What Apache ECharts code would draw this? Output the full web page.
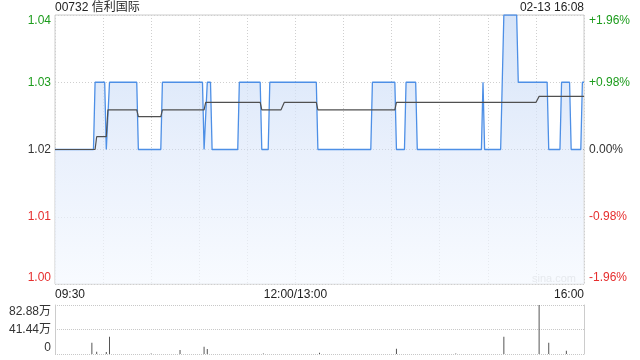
<!DOCTYPE html>
<html>
<head>
<meta charset="utf-8">
<script src="https://cdn.jsdelivr.net/npm/echarts@6/dist/echarts.min.js"></script>
<style>
html,body{margin:0;padding:0;background:#fff;}
#c{width:640px;height:360px;}
</style>
</head>
<body>
<div id="c"></div>
<script>
// ---- data (minute index from 09:30, lunch break removed; 330 = 16:00) ----
var title = '00732 信利国际';
var stamp = '02-13 16:08';
var prevClose = 1.02;
var timeLabels = {0: '09:30', 150: '12:00/13:00', 330: '16:00'};

var priceMinutes = [0, 24, 25, 31, 32, 33, 34, 51, 52, 66, 67, 92, 93, 94, 95, 97, 98, 114, 115, 128, 129, 133, 134, 163, 164, 197, 198, 212, 213, 218, 219, 225, 226, 266, 267, 268, 278, 280, 288, 289, 307, 308, 315, 316, 321, 322, 328, 329, 330];
var priceValues  = [1.02, 1.02, 1.03, 1.03, 1.02, 1.02, 1.03, 1.03, 1.02, 1.02, 1.03, 1.03, 1.02, 1.02, 1.03, 1.03, 1.02, 1.02, 1.03, 1.03, 1.02, 1.02, 1.03, 1.03, 1.02, 1.02, 1.03, 1.03, 1.02, 1.02, 1.03, 1.03, 1.02, 1.02, 1.03, 1.02, 1.02, 1.04, 1.04, 1.03, 1.03, 1.02, 1.02, 1.03, 1.03, 1.02, 1.02, 1.03, 1.03];

var avgMinutes = [0, 25, 26, 32, 33, 51, 52, 66, 67, 93, 94, 128, 129, 141, 143, 163, 164, 212, 213, 300, 302, 330];
var avgValues  = [1.02, 1.02, 1.0219, 1.0219, 1.0259, 1.0259, 1.0249, 1.0249, 1.0259, 1.0259, 1.027, 1.027, 1.0259, 1.0259, 1.027, 1.027, 1.0259, 1.0259, 1.027, 1.027, 1.0279, 1.0279];

var volMinutes = [23, 26, 32, 34, 60, 78, 93, 95, 130, 165, 213, 250, 280, 302, 308, 319];
var volValues  = [19.1, 3.9, 3.5, 29.3, 0.8, 6.8, 12.4, 8.5, 0.8, 2.0, 9.0, 0.8, 29.3, 82.88, 19.1, 5.6]; // 万

var priceTicks = [1.00, 1.01, 1.02, 1.03, 1.04];
var pctTicks = [-1.96, -0.98, 0, 0.98, 1.96];
var volTicks = [0, 41.44, 82.88];

// ---- build ----
function pairs(xs, ys) { return xs.map(function (x, i) { return [x, ys[i]]; }); }
var GREEN = '#1c9c1c', RED = '#e62e2e', DARK = '#333';
var FONT = '"Liberation Sans", Arial, "Noto Sans CJK SC", sans-serif';

var chart = echarts.init(document.getElementById('c'), null, {renderer: 'canvas'});
var L = 55, R = 56;

chart.setOption({
  animation: false,
  textStyle: {fontFamily: FONT},
  graphic: [
    {type: 'text', x: L, y: 8, silent: true, style: {text: title, fontSize: 12, fill: '#222', fontFamily: FONT, align: 'left', verticalAlign: 'middle'}},
    {type: 'text', x: 640 - R, y: 8, silent: true, style: {text: stamp, fontSize: 12, fill: '#222', fontFamily: FONT, align: 'right', verticalAlign: 'middle'}},
    {type: 'text', left: 532, top: 273, silent: true, style: {text: 'sina.com', fontSize: 11, fill: '#c8c8c8', fontFamily: FONT}}
  ],
  grid: [
    {left: L, right: R, top: 15, height: 269, show: true, borderColor: '#cccccc', borderWidth: 1, backgroundColor: 'transparent'},
    {left: L, right: R, top: 305, height: 49, show: false}
  ],
  xAxis: [
    {
      type: 'value', gridIndex: 0, min: 0, max: 330, interval: 30,
      axisLine: {show: false}, axisTick: {show: false},
      axisLabel: {
        show: true, margin: 5, fontSize: 12, color: '#222', fontFamily: FONT,
        showMinLabel: true, showMaxLabel: true,
        alignMinLabel: 'left', alignMaxLabel: 'right',
        formatter: function (v) { return timeLabels[Math.round(v)] || ''; }
      },
      splitLine: {show: true, lineStyle: {color: '#cfcfcf', type: [1, 2], width: 1}}
    },
    {
      type: 'value', gridIndex: 1, min: 0, max: 330, interval: 30,
      axisLine: {show: false}, axisTick: {show: false}, axisLabel: {show: false},
      splitLine: {show: false}
    }
  ],
  yAxis: [
    {
      type: 'value', gridIndex: 0, min: 1.00, max: 1.04, interval: 0.01,
      axisLine: {show: false}, axisTick: {show: false},
      splitLine: {show: true, lineStyle: {color: ['#cfcfcf', '#cfcfcf', '#a8a8a8', '#cfcfcf', '#cfcfcf'], type: [1, 2], width: 1}},
      axisLabel: {
        margin: 4, fontSize: 12, fontFamily: FONT,
        formatter: function (v) {
          var k = Math.round(v * 100);
          var s = (k / 100).toFixed(2);
          var base = k > 102 ? 'g' : (k < 102 ? 'r' : 'd');
          if (k === 104) return '{gt|' + s + '}';
          if (k === 100) return '{rb|' + s + '}';
          return '{' + base + '|' + s + '}';
        },
        rich: {
          g: {color: GREEN, fontSize: 12, fontFamily: FONT},
          gt: {color: GREEN, fontSize: 12, fontFamily: FONT, padding: [11, 0, 0, 0]},
          d: {color: DARK, fontSize: 12, fontFamily: FONT},
          r: {color: RED, fontSize: 12, fontFamily: FONT},
          rb: {color: RED, fontSize: 12, fontFamily: FONT, padding: [0, 0, 12, 0]}
        }
      }
    },
    {
      type: 'value', gridIndex: 0, position: 'right', min: -1.96, max: 1.96, interval: 0.98,
      axisLine: {show: false}, axisTick: {show: false}, splitLine: {show: false},
      axisLabel: {
        margin: 5, fontSize: 12, fontFamily: FONT,
        formatter: function (v) {
          var k = Math.round(v * 100);
          var s = (Math.abs(k) / 100).toFixed(2) + '%';
          if (k > 0) s = '+' + s; else if (k < 0) s = '-' + s;
          var base = k > 0 ? 'g' : (k < 0 ? 'r' : 'd');
          if (k === 196) return '{gt|' + s + '}';
          if (k === -196) return '{rb|' + s + '}';
          return '{' + base + '|' + s + '}';
        },
        rich: {
          g: {color: GREEN, fontSize: 12, fontFamily: FONT},
          gt: {color: GREEN, fontSize: 12, fontFamily: FONT, padding: [11, 0, 0, 0]},
          d: {color: DARK, fontSize: 12, fontFamily: FONT},
          r: {color: RED, fontSize: 12, fontFamily: FONT},
          rb: {color: RED, fontSize: 12, fontFamily: FONT, padding: [0, 0, 12, 0]}
        }
      }
    },
    {
      type: 'value', gridIndex: 1, min: 0, max: 82.88, interval: 41.44,
      axisLine: {show: true, lineStyle: {color: '#cccccc', width: 1}}, axisTick: {show: false},
      splitLine: {show: true, lineStyle: {color: '#c8c8c8', type: [1, 1], width: 1}},
      axisLabel: {
        margin: 4, fontSize: 12, fontFamily: FONT, color: DARK,
        formatter: function (v) {
          if (v < 1) return '{b|0}';
          var s = v.toFixed(2) + '万';
          if (v > 80) return '{t|' + s + '}';
          return '{m|' + s + '}';
        },
        rich: {
          t: {color: DARK, fontSize: 12, fontFamily: FONT, padding: [13, 0, 0, 0]},
          m: {color: DARK, fontSize: 12, fontFamily: FONT},
          b: {color: DARK, fontSize: 12, fontFamily: FONT, padding: [0, 0, 12, 0]}
        }
      }
    },
    {
      type: 'value', gridIndex: 1, position: 'right', min: 0, max: 82.88, interval: 41.44,
      axisLine: {show: true, lineStyle: {color: '#cccccc', width: 1}}, axisTick: {show: false},
      axisLabel: {show: false}, splitLine: {show: false}
    }
  ],
  series: [
    {
      type: 'line', xAxisIndex: 0, yAxisIndex: 0, data: pairs(priceMinutes, priceValues),
      showSymbol: false, symbol: 'none', z: 3,
      lineStyle: {color: '#4d8fe6', width: 1.3},
      areaStyle: {
        origin: 'start',
        color: new echarts.graphic.LinearGradient(0, 0, 0, 1, [
          {offset: 0, color: '#c4d8f5'},
          {offset: 0.5, color: '#dfe9fa'},
          {offset: 1, color: '#f4f8fe'}
        ])
      }
    },
    {
      type: 'line', xAxisIndex: 0, yAxisIndex: 0, data: pairs(avgMinutes, avgValues),
      showSymbol: false, symbol: 'none', z: 4,
      lineStyle: {color: '#505050', width: 1.2}
    },
    {
      type: 'bar', xAxisIndex: 1, yAxisIndex: 2, data: pairs(volMinutes, volValues),
      barWidth: 1, itemStyle: {color: '#555555'}
    }
  ]
});
</script>
</body>
</html>
